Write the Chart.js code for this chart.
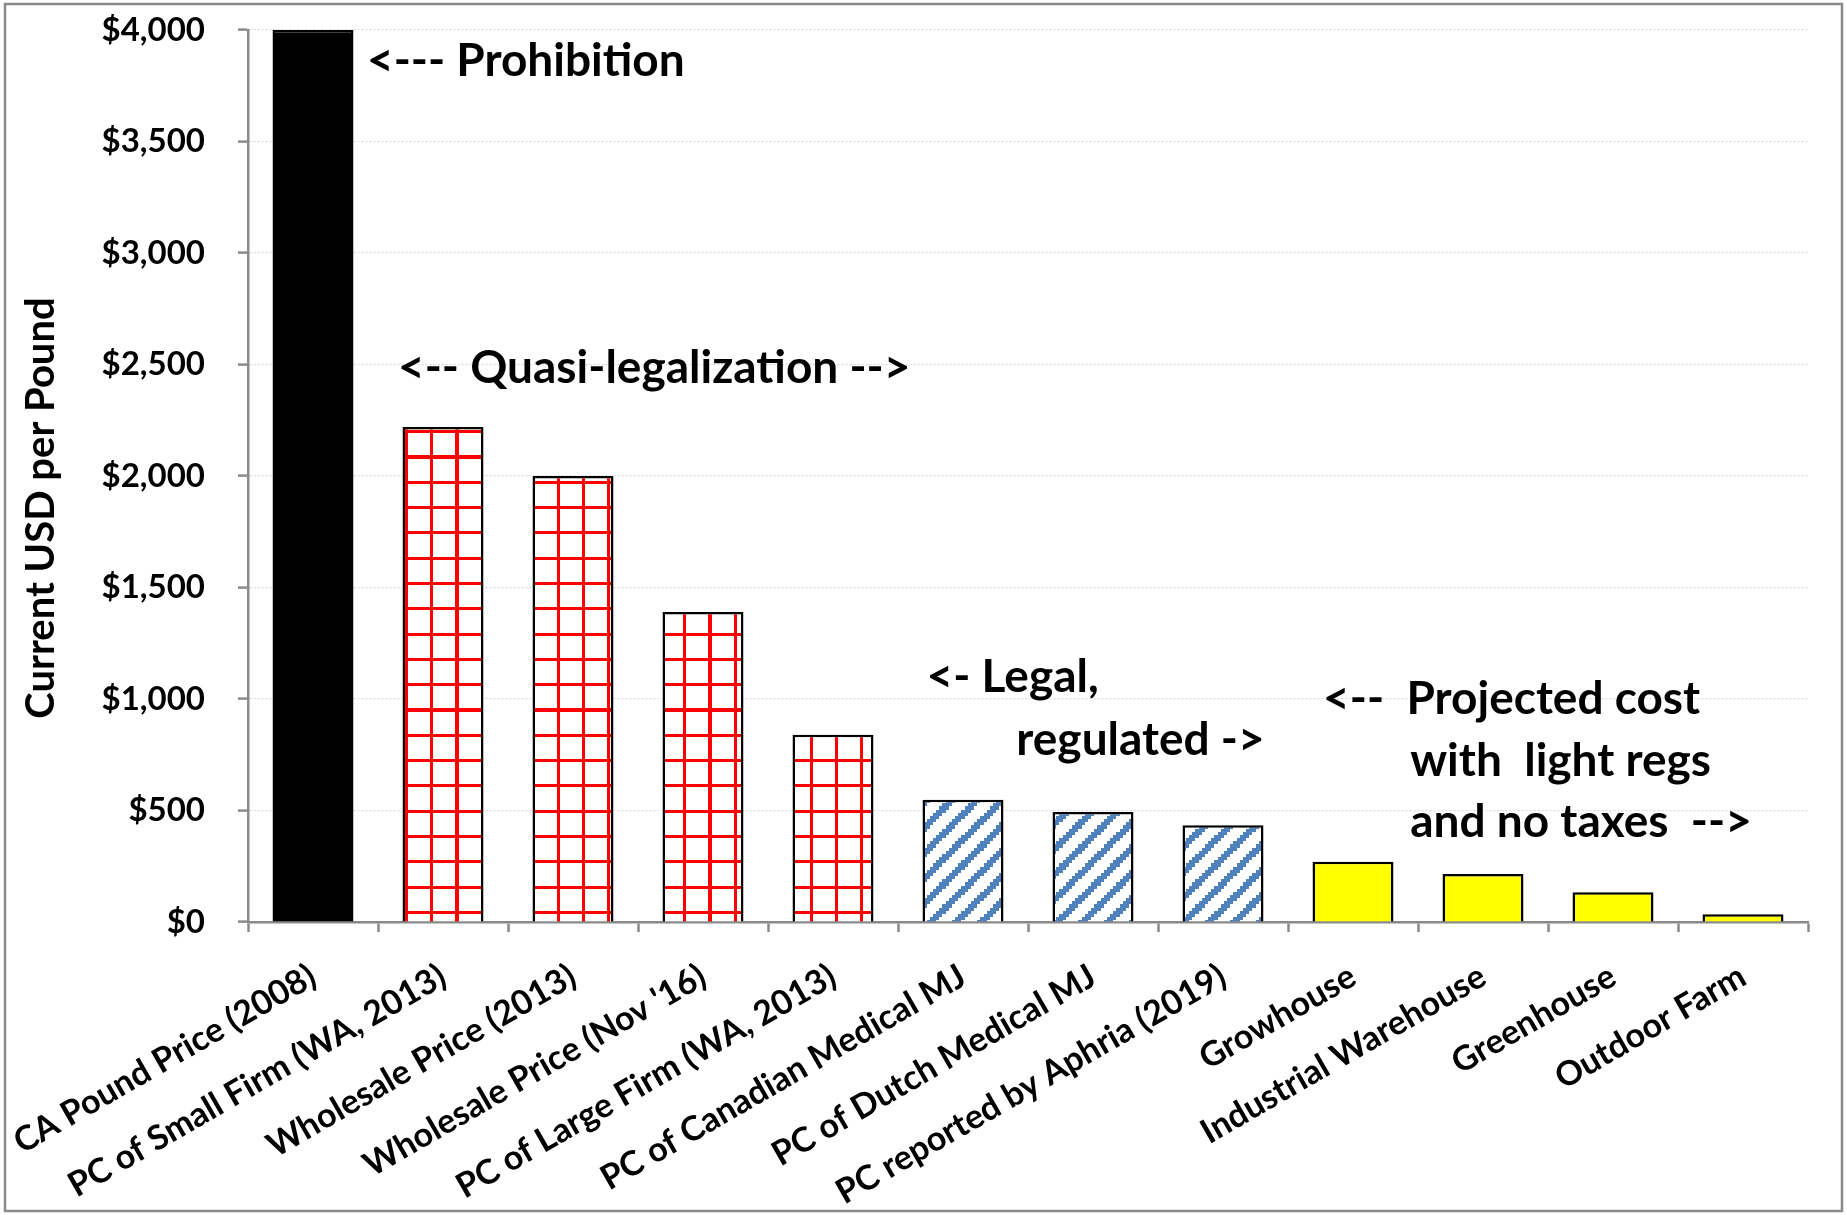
<!DOCTYPE html>
<html>
<head>
<meta charset="utf-8">
<title>Current USD per Pound</title>
<script src="https://cdn.jsdelivr.net/npm/chart.js@4/dist/chart.umd.min.js"></script>
<style>
  html, body { margin: 0; padding: 0; background: #fff; }
  canvas { display: block; }
</style>
</head>
<body>
<canvas id="chart" width="1847" height="1215"></canvas>
<script>
// Cost / price per pound, by production regime
const categories = [
  "CA Pound Price (2008)",
  "PC of Small Firm (WA, 2013)",
  "Wholesale Price (2013)",
  "Wholesale Price (Nov '16)",
  "PC of Large Firm (WA, 2013)",
  "PC of Canadian Medical MJ",
  "PC of Dutch Medical MJ",
  "PC reported by Aphria (2019)",
  "Growhouse",
  "Industrial Warehouse",
  "Greenhouse",
  "Outdoor Farm"
];
const pricePerPound = [4000, 2220, 2000, 1390, 840, 548, 493, 434, 270, 215, 133, 35];
const regime = [
  "prohibition",
  "quasi", "quasi", "quasi", "quasi",
  "regulated", "regulated", "regulated",
  "projected", "projected", "projected", "projected"
];
const yTickValues = [0, 500, 1000, 1500, 2000, 2500, 3000, 3500, 4000];
const yAxisTitle = "Current USD per Pound";
const noteLines = [
  "<--- Prohibition",
  "<-- Quasi-legalization -->",
  "<- Legal,",
  "regulated ->",
  "<--  Projected cost",
  "with  light regs",
  "and no taxes  -->"
];

const FONT = "Lato, 'Open Sans', sans-serif";

// Build a fill pattern from an 8x8 bitmap, enlarged with hard pixel edges
function bitmapPattern(ctx, isOn, onColor) {
  const reps = 10, cell = 8;
  const src = document.createElement('canvas');
  src.width = src.height = reps * cell;
  const s = src.getContext('2d');
  s.fillStyle = '#ffffff';
  s.fillRect(0, 0, src.width, src.height);
  s.fillStyle = onColor;
  for (let r = 0; r < src.height; r++) {
    for (let c = 0; c < src.width; c++) {
      if (isOn(r % cell, c % cell)) s.fillRect(c, r, 1, 1);
    }
  }
  const big = document.createElement('canvas');
  big.width = big.height = 253;
  const b = big.getContext('2d');
  b.imageSmoothingEnabled = false;
  b.drawImage(src, 0, 0, big.width, big.height);
  return ctx.createPattern(big, 'repeat');
}

function build() {
  const canvas = document.getElementById('chart');
  const ctx = canvas.getContext('2d');

  const fills = {
    prohibition: '#000000',
    quasi: bitmapPattern(ctx, (r, c) => r === 0 || c === 0, '#ff0000'),
    regulated: bitmapPattern(ctx, (r, c) => ((r + c) % 8) < 3, '#4f81bd'),
    projected: '#ffff00'
  };

  // Text placed in data space: [line index, category position, value at baseline]
  const notePlacement = [
    [0, 0.415, 3793],
    [1, 0.654, 2417],
    [2, 4.72, 1031],
    [3, 5.41, 750],
    [4, 7.77, 933],
    [5, 8.44, 655],
    [6, 8.44, 381]
  ];

  const decorations = {
    id: 'decorations',
    afterDatasetsDraw(chart) {
      const c = chart.ctx;
      const xs = chart.scales.x, ys = chart.scales.y;
      c.save();
      c.fillStyle = '#000';
      c.font = "bold 46px " + FONT;
      c.textAlign = 'left';
      c.textBaseline = 'alphabetic';
      notePlacement.forEach(([i, xv, yv]) => {
        c.fillText(noteLines[i], xs.getPixelForValue(xv), ys.getPixelForValue(yv));
      });
      c.restore();
    },
    afterDraw(chart) {
      const c = chart.ctx;
      c.save();
      // axis title
      c.translate(41, 508);
      c.rotate(-Math.PI / 2);
      c.font = "bold 40px " + FONT;
      c.fillStyle = '#000';
      c.textAlign = 'center';
      c.textBaseline = 'middle';
      c.fillText(yAxisTitle, 0, 0);
      c.restore();
      // outer frame
      c.save();
      c.strokeStyle = '#8a8a8a';
      c.lineWidth = 2.5;
      c.strokeRect(5, 4, chart.width - 10, chart.height - 8);
      c.restore();
    }
  };

  new Chart(ctx, {
    type: 'bar',
    data: {
      labels: categories,
      datasets: [{
        data: pricePerPound,
        backgroundColor: regime.map(r => fills[r]),
        borderColor: '#000000',
        borderWidth: 2.5,
        barPercentage: 0.623,
        categoryPercentage: 1.0
      }]
    },
    options: {
      responsive: false,
      animation: false,
      devicePixelRatio: 1,
      layout: { padding: { left: 0, right: 39, top: 30, bottom: 0 } },
      plugins: {
        legend: { display: false },
        tooltip: { enabled: false },
        title: { display: false }
      },
      scales: {
        x: {
          offset: true,
          grid: {
            display: true,
            offset: true,
            drawOnChartArea: false,
            drawTicks: true,
            tickLength: 10,
            tickColor: '#8a8a8a',
            tickWidth: 2.5
          },
          border: { display: true, color: '#8a8a8a', width: 2.5 },
          ticks: {
            autoSkip: false,
            maxRotation: 30,
            minRotation: 30,
            padding: 24,
            color: '#000',
            font: { family: FONT, size: 34, weight: 'bold' }
          },
          afterFit(scale) {
            scale.height = 293;
            scale.paddingLeft = 0;
            scale.paddingRight = 0;
          }
        },
        y: {
          min: 0,
          max: 4000,
          afterBuildTicks(scale) { scale.ticks = yTickValues.map(v => ({ value: v })); },
          grid: {
            color: '#d9d9d9',
            lineWidth: 1.2,
            drawTicks: true,
            tickLength: 10,
            tickColor: '#8a8a8a',
            tickWidth: 2.5
          },
          border: { display: true, color: '#8a8a8a', width: 2.5, dash: [2, 2] },
          ticks: {
            padding: 33,
            color: '#000',
            font: { family: FONT, size: 33, weight: 'bold' },
            callback: v => '$' + Number(v).toLocaleString('en-US')
          },
          afterFit(scale) {
            scale.width = 248;
            scale.paddingTop = 0;
            scale.paddingBottom = 0;
          }
        }
      }
    },
    plugins: [decorations]
  });
}

if (document.fonts && document.fonts.load) {
  Promise.all([
    document.fonts.load("bold 30px Lato"),
    document.fonts.load("bold 46px Lato")
  ]).then(build, build);
} else {
  build();
}
</script>
</body>
</html>
